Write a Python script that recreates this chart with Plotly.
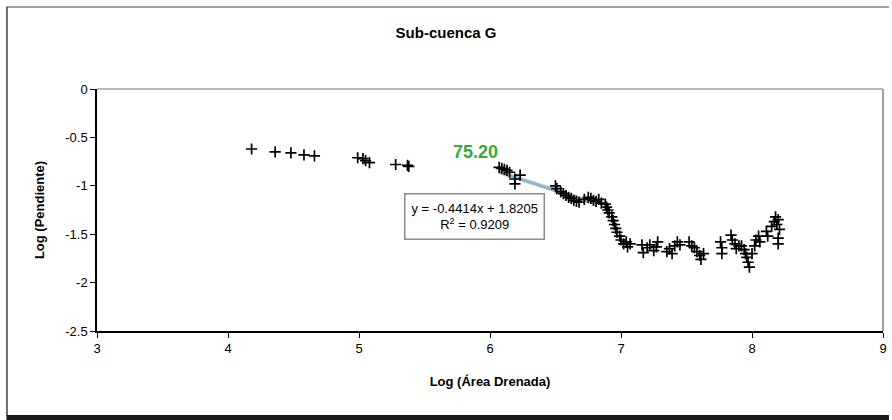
import plotly.graph_objects as go

# ---- data ----
x_vals = [4.18, 4.36, 4.48, 4.58, 4.66, 4.99, 5.03, 5.05, 5.08, 5.28, 5.37, 5.38,
          6.07, 6.09, 6.11, 6.13, 6.15, 6.19, 6.19, 6.23,
          6.50, 6.51, 6.54, 6.56, 6.58, 6.60, 6.62, 6.64, 6.66, 6.68, 6.72, 6.75, 6.77, 6.79,
          6.81, 6.83, 6.85, 6.88, 6.89, 6.90, 6.91,
          6.93, 6.94, 6.95, 6.96, 6.97, 6.99, 7.00, 7.02, 7.04, 7.05, 7.07,
          7.16, 7.17, 7.20, 7.22, 7.25, 7.27, 7.28,
          7.35, 7.37, 7.39, 7.41, 7.43, 7.45,
          7.52, 7.54, 7.56, 7.58, 7.60, 7.61, 7.63,
          7.76, 7.77, 7.77,
          7.84, 7.85, 7.87, 7.88, 7.90,
          7.92, 7.94, 7.95, 7.96, 7.97, 7.98, 8.00,
          8.02, 8.03, 8.05, 8.06,
          8.11, 8.12,
          8.15, 8.17, 8.18, 8.19, 8.20, 8.21, 8.20, 8.20]
y_vals = [-0.62, -0.65, -0.66, -0.68, -0.69, -0.71, -0.72, -0.74, -0.76, -0.78, -0.79, -0.80,
          -0.81, -0.82, -0.83, -0.84, -0.86, -0.93, -0.98, -0.89,
          -1.00, -1.03, -1.06, -1.08, -1.10, -1.12, -1.13, -1.15, -1.16, -1.17, -1.14, -1.12, -1.13, -1.15,
          -1.16, -1.14, -1.18, -1.19, -1.22, -1.25, -1.28,
          -1.32, -1.36, -1.40, -1.44, -1.48, -1.52, -1.56, -1.60, -1.58, -1.63, -1.60,
          -1.61, -1.69, -1.64, -1.61, -1.67, -1.63, -1.58,
          -1.68, -1.65, -1.70, -1.62, -1.58, -1.61,
          -1.58, -1.62, -1.64, -1.68, -1.72, -1.76, -1.70,
          -1.58, -1.64, -1.70,
          -1.51, -1.56, -1.60, -1.65, -1.62,
          -1.62, -1.66, -1.70, -1.74, -1.79, -1.84, -1.70,
          -1.62, -1.56, -1.52, -1.58,
          -1.47, -1.52,
          -1.42, -1.37, -1.32, -1.40, -1.35, -1.45, -1.54, -1.60]

slope = -0.4414
intercept = 1.8205
r2 = 0.9209
trend_x = [6.07, 6.80]
trend_y = [slope * v + intercept for v in trend_x]

label_value = "75.20"
x_ticks = [3, 4, 5, 6, 7, 8, 9]
y_ticks = [0, -0.5, -1, -1.5, -2, -2.5]
y_ticktext = ["0", "-0.5", "-1", "-1.5", "-2", "-2.5"]

FONT = "Liberation Sans, Arial, sans-serif"

fig = go.Figure()
fig.add_trace(go.Scatter(x=trend_x, y=trend_y, mode="lines",
                         line=dict(color="#b4b4b4", width=4), showlegend=False))
fig.add_trace(go.Scatter(x=trend_x, y=trend_y, mode="lines",
                         line=dict(color="#58c4e6", width=1.2), showlegend=False))
fig.add_trace(go.Scatter(x=x_vals, y=y_vals, mode="markers",
                         marker=dict(symbol="cross-thin", size=8, color="black",
                                     line=dict(color="black", width=1.7)),
                         showlegend=False, hoverinfo="skip"))

fig.update_layout(
    width=892, height=420,
    margin=dict(l=97, r=5, t=89, b=89),
    paper_bgcolor="white", plot_bgcolor="white",
    font=dict(family=FONT, size=12, color="black"),
    title=dict(text="<b>Sub-cuenca G</b>", x=446 / 892, xanchor="center",
               y=1 - 33 / 420, yanchor="middle", font=dict(size=15, family=FONT)),
    xaxis=dict(range=[3, 9], tickvals=x_ticks, showgrid=False, zeroline=False,
               showline=True, linecolor="black", linewidth=1.5,
               ticks="outside", ticklen=5, tickcolor="black", tickwidth=1,
               tickfont=dict(size=13),
               title=dict(text="<b>Log (Área Drenada)</b>", font=dict(size=13), standoff=22)),
    yaxis=dict(range=[-2.5, 0], tickvals=y_ticks, ticktext=y_ticktext, showgrid=False,
               zeroline=False, showline=True, linecolor="black", linewidth=1.5,
               ticks="outside", ticklen=5, tickcolor="black", tickwidth=1,
               tickfont=dict(size=13),
               title=dict(text="<b>Log (Pendiente)</b>", font=dict(size=13), standoff=18)),
)

# plot-area top/right border (gray)
fig.add_shape(type="line", xref="paper", yref="paper", x0=0, x1=1, y0=1, y1=1,
              line=dict(color="#a0a0a0", width=1.5))
fig.add_shape(type="line", xref="paper", yref="paper", x0=1, x1=1, y0=0, y1=1,
              line=dict(color="#a0a0a0", width=2))

# outer chart border
pw, ph = 790.0, 242.0
def px(xp):
    return (xp - 97) / pw
def py(yp):
    return (331 - yp) / ph
fig.add_shape(type="line", xref="paper", yref="paper", x0=px(6.5), x1=px(6.5), y0=py(7), y1=py(416),
              line=dict(color="#404040", width=1.5))
fig.add_shape(type="line", xref="paper", yref="paper", x0=px(6), x1=px(893), y0=py(7), y1=py(7),
              line=dict(color="#404040", width=1))
fig.add_shape(type="line", xref="paper", yref="paper", x0=px(6), x1=px(893), y0=py(417.5), y1=py(417.5),
              line=dict(color="#1a1a1a", width=5))

# regression annotation box
fig.add_annotation(x=3 + (476 - 97) / (790 / 6), y=-(216.5 - 89.5) / (242 / 2.5),
                   xref="x", yref="y",
                   text=f"y = {slope}x + {intercept}<br>R<sup>2</sup> = {r2}",
                   showarrow=False, font=dict(size=13, family=FONT),
                   align="center", bordercolor="#8c8c8c", borderwidth=1.5, borderpad=6,
                   bgcolor="white")

fig.add_annotation(x=3 + (477 - 97) / (790 / 6), y=-(152 - 89.5) / (242 / 2.5), xref="x", yref="y",
                   text=f"<b>{label_value}</b>", showarrow=False,
                   font=dict(size=18, color="#3aa83a", family=FONT))

fig.write_html("out.html")
